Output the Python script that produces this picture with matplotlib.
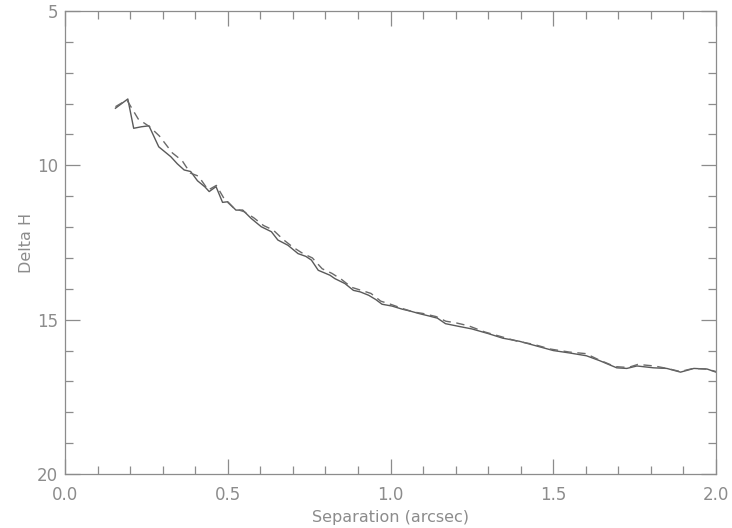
import matplotlib
matplotlib.use("Agg")
import matplotlib.pyplot as plt
from matplotlib.ticker import MultipleLocator

# contrast curves
sep_solid = [0.155, 0.193, 0.211, 0.235, 0.258, 0.288, 0.325, 0.345, 0.366, 0.386,
             0.407, 0.430, 0.443, 0.464, 0.484, 0.500, 0.525, 0.546, 0.572, 0.603,
             0.634, 0.654, 0.685, 0.716, 0.740, 0.757, 0.778, 0.814, 0.829, 0.860,
             0.886, 0.907, 0.933, 0.955, 0.974, 1.005, 1.036, 1.060, 1.087, 1.118,
             1.144, 1.169, 1.211, 1.250, 1.300, 1.345, 1.396, 1.448, 1.500, 1.551,
             1.602, 1.643, 1.695, 1.726, 1.757, 1.808, 1.849, 1.891, 1.932, 1.973, 2.000]
dh_solid = [8.15, 7.85, 8.80, 8.75, 8.72, 9.40, 9.72, 9.95, 10.15, 10.20,
            10.50, 10.70, 10.85, 10.69, 11.20, 11.18, 11.45, 11.45, 11.72, 11.99,
            12.15, 12.42, 12.59, 12.86, 12.95, 13.07, 13.40, 13.56, 13.67, 13.83,
            14.05, 14.10, 14.21, 14.35, 14.50, 14.56, 14.66, 14.72, 14.80, 14.88,
            14.95, 15.13, 15.22, 15.30, 15.45, 15.60, 15.70, 15.85, 16.00, 16.08,
            16.17, 16.33, 16.56, 16.58, 16.50, 16.56, 16.58, 16.70, 16.58, 16.60, 16.70]

sep_dash = [0.155, 0.190, 0.225, 0.260, 0.290, 0.330, 0.360, 0.385, 0.410, 0.440,
            0.465, 0.490, 0.520, 0.550, 0.580, 0.610, 0.640, 0.670, 0.700, 0.730,
            0.760, 0.790, 0.820, 0.850, 0.880, 0.910, 0.940, 0.970, 1.000, 1.040,
            1.070, 1.100, 1.140, 1.170, 1.200, 1.240, 1.290, 1.340, 1.390, 1.440,
            1.490, 1.550, 1.600, 1.640, 1.690, 1.730, 1.760, 1.810, 1.850, 1.890,
            1.930, 1.970, 2.000]
dh_dash = [8.10, 7.88, 8.50, 8.75, 9.05, 9.60, 9.85, 10.25, 10.35, 10.80,
           10.65, 11.10, 11.40, 11.50, 11.70, 11.95, 12.10, 12.40, 12.65, 12.85,
           13.00, 13.35, 13.50, 13.70, 13.95, 14.05, 14.15, 14.40, 14.50, 14.65,
           14.75, 14.80, 14.90, 15.05, 15.10, 15.20, 15.40, 15.55, 15.70, 15.80,
           15.95, 16.05, 16.10, 16.30, 16.52, 16.55, 16.45, 16.50, 16.58, 16.68,
           16.58, 16.60, 16.68]

grey = "#8c8c8c"
fig = plt.figure(figsize=(7.32, 5.28), dpi=100)
ax = fig.add_axes([65 / 732, 54 / 528, 651 / 732, 463 / 528])

ax.plot(sep_solid, dh_solid, color="#5a5a5a", lw=1.0)
ax.plot(sep_dash, dh_dash, color="#6a6a6a", lw=1.0, linestyle=(0, (6, 4)))

ax.set_xlim(0, 2)
ax.set_ylim(20, 5)
ax.xaxis.set_major_locator(MultipleLocator(0.5))
ax.xaxis.set_minor_locator(MultipleLocator(0.1))
ax.yaxis.set_major_locator(MultipleLocator(5))
ax.yaxis.set_minor_locator(MultipleLocator(1))
ax.xaxis.set_major_formatter(plt.FormatStrFormatter("%.1f"))
ax.yaxis.set_major_formatter(plt.FormatStrFormatter("%d"))

for s in ax.spines.values():
    s.set_color(grey)
    s.set_linewidth(0.9)
ax.tick_params(which="both", direction="in", top=True, right=True,
               color=grey, labelcolor=grey, labelsize=12, width=0.9)
ax.tick_params(which="major", length=11)
ax.tick_params(axis="x", which="major", pad=9)
ax.tick_params(axis="y", which="major", pad=5)
ax.tick_params(which="minor", length=6)

ax.set_xlabel("Separation (arcsec)", color=grey, fontsize=11.5, labelpad=4)
ax.set_ylabel("Delta H", color=grey, fontsize=11.5, labelpad=2)

fig.savefig("out.png", dpi=100)
